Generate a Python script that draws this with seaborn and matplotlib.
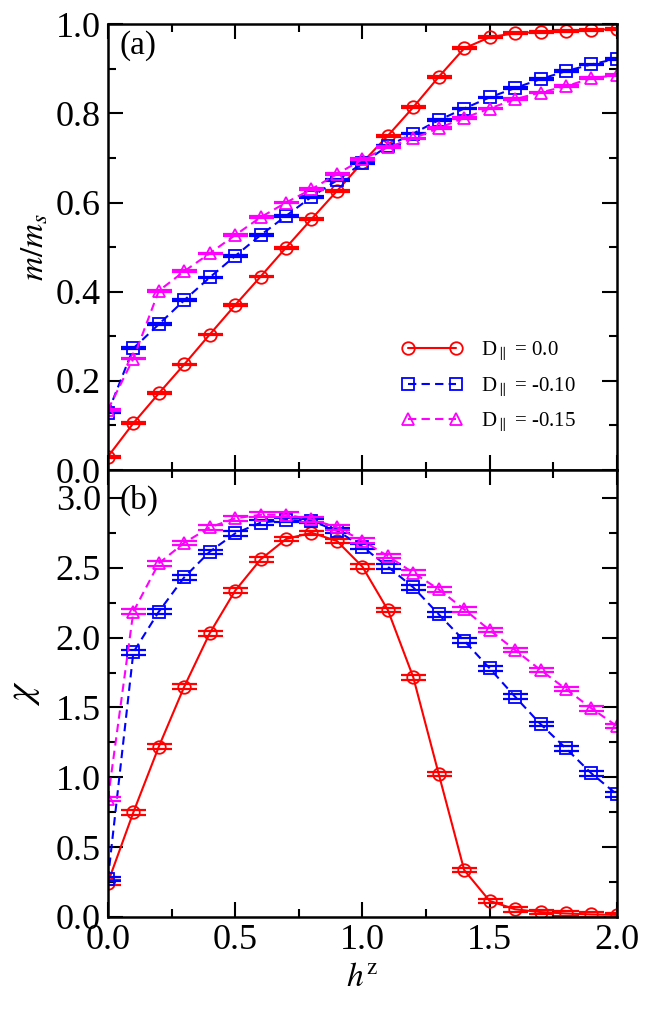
import numpy as np
import pandas as pd
import matplotlib
matplotlib.use("Agg")
import matplotlib.pyplot as plt
from matplotlib.ticker import MultipleLocator, FormatStrFormatter
import seaborn as sns

# ---------------- data ----------------
hz = [0.0, 0.1, 0.2, 0.3, 0.4, 0.5, 0.6, 0.7, 0.8, 0.9, 1.0,
      1.1, 1.2, 1.3, 1.4, 1.5, 1.6, 1.7, 1.8, 1.9, 2.0]

labels = ["D$_{\\parallel}$ = 0.0", "D$_{\\parallel}$ = -0.10", "D$_{\\parallel}$ = -0.15"]

m_d0 = [0.030, 0.105, 0.172, 0.237, 0.304, 0.370, 0.434, 0.499, 0.563, 0.626, 0.690,
        0.750, 0.814, 0.882, 0.946, 0.971, 0.980, 0.983, 0.985, 0.988, 0.989]
m_d10 = [0.129, 0.273, 0.327, 0.381, 0.432, 0.480, 0.527, 0.570, 0.613, 0.650, 0.688,
         0.727, 0.755, 0.785, 0.811, 0.836, 0.857, 0.877, 0.895, 0.910, 0.923]
m_d15 = [0.135, 0.250, 0.402, 0.446, 0.486, 0.527, 0.567, 0.600, 0.630, 0.664, 0.697,
         0.724, 0.744, 0.767, 0.790, 0.811, 0.832, 0.847, 0.861, 0.879, 0.886]

chi_d0 = [0.246, 0.749, 1.219, 1.649, 2.031, 2.336, 2.560, 2.706, 2.751, 2.692, 2.508,
          2.198, 1.716, 1.024, 0.336, 0.115, 0.055, 0.035, 0.025, 0.018, 0.015]
chi_d10 = [0.270, 1.895, 2.186, 2.432, 2.615, 2.746, 2.823, 2.842, 2.835, 2.766, 2.651,
           2.508, 2.360, 2.167, 1.978, 1.780, 1.577, 1.381, 1.207, 1.028, 0.878]
chi_d15 = [0.843, 2.186, 2.532, 2.679, 2.789, 2.854, 2.880, 2.880, 2.847, 2.790, 2.694,
           2.584, 2.465, 2.346, 2.203, 2.054, 1.911, 1.768, 1.632, 1.494, 1.367]

colors = ["#ff0000", "#0000ff", "#ff00ff"]
markers = ["o", "s", "^"]
msizes = [9, 8, 9]
styles = ["-", (0, (4, 2.5)), (0, (4, 2.5))]

# ---------------- style ----------------
sns.set_style("ticks", {"axes.edgecolor": "black", "xtick.color": "black",
                        "ytick.color": "black", "text.color": "black",
                        "axes.labelcolor": "black"})
plt.rcParams["font.family"] = ["Liberation Serif", "DejaVu Serif"]
plt.rcParams["mathtext.fontset"] = "stix"

fig = plt.figure(figsize=(6.5, 10.13), dpi=100)
left, width = 0.166, 0.783
ax_a = fig.add_axes([left, 0.536, width, 0.440])
ax_b = fig.add_axes([left, 0.0948, width, 0.4412], sharex=ax_a)

def draw(ax, series, yerr):
    for vals, lab, c, mk, ms, ls in zip(series, labels, colors, markers, msizes, styles):
        sns.lineplot(x=hz, y=vals, ax=ax, color=c, marker=mk, markersize=ms,
                     markerfacecolor="none", markeredgecolor=c, markeredgewidth=1.3,
                     linewidth=1.5, linestyle=ls, label=lab, errorbar=None, sort=False)
        ax.errorbar(hz, vals, yerr=yerr, fmt="none", ecolor=c, elinewidth=0,
                    capsize=9, capthick=1.6)

draw(ax_a, [m_d0, m_d10, m_d15], 0.002)
draw(ax_b, [chi_d0, chi_d10, chi_d15], 0.016)

for ax in (ax_a, ax_b):
    ax.set_xlim(0, 2.0)
    ax.xaxis.set_major_locator(MultipleLocator(0.5))
    ax.xaxis.set_minor_locator(MultipleLocator(0.25))
    ax.tick_params(which="both", direction="in", top=True, right=True,
                   width=1.5, labelsize=26, colors="black")
    ax.tick_params(which="major", length=11, pad=5)
    ax.tick_params(which="minor", length=6)
    for s in ax.spines.values():
        s.set_linewidth(1.8)
        s.set_color("black")
    ax.set_xlabel("")
    ax.set_ylabel("")

ax_a.set_ylim(0, 1.0)
ax_a.yaxis.set_major_locator(MultipleLocator(0.2))
ax_a.yaxis.set_minor_locator(MultipleLocator(0.1))
ax_a.yaxis.set_major_formatter(FormatStrFormatter("%.1f"))
ax_a.tick_params(axis="x", labelbottom=False)

ax_b.set_ylim(0, 3.2)
ax_b.yaxis.set_major_locator(MultipleLocator(0.5))
ax_b.yaxis.set_minor_locator(MultipleLocator(0.25))
ax_b.yaxis.set_major_formatter(FormatStrFormatter("%.1f"))
ax_b.xaxis.set_major_formatter(FormatStrFormatter("%.1f"))

ax_a.set_ylabel("$m/m_s$", fontsize=24, labelpad=4)
ax_b.set_ylabel("$\\chi$", fontsize=28, labelpad=10)
ax_b.set_xlabel("$h^{\\mathrm{z}}$", fontsize=24, labelpad=4)

ax_a.text(0.022, 0.953, "(a)", transform=ax_a.transAxes, fontsize=24, va="center", ha="left")
ax_b.text(0.022, 0.933, "(b)", transform=ax_b.transAxes, fontsize=24, va="center", ha="left")

if ax_b.get_legend():
    ax_b.get_legend().remove()
handles, labs = ax_a.get_legend_handles_labels()
ax_a.legend(handles[:3], labs[:3], loc="upper left", bbox_to_anchor=(0.54, 0.335),
            frameon=False, numpoints=2, handlelength=2.9, handletextpad=0.9,
            labelspacing=0.55, fontsize=15)

fig.savefig("out.png", dpi=100)
